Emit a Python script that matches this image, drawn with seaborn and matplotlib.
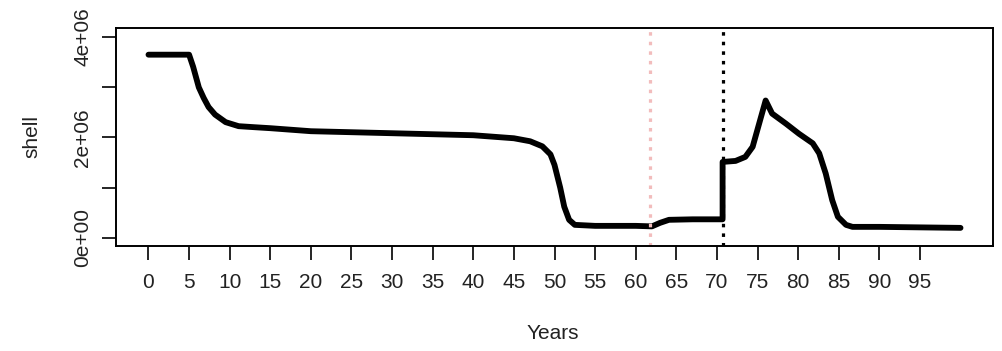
import matplotlib
matplotlib.use("Agg")
import matplotlib.pyplot as plt
import seaborn as sns
import pandas as pd

years = [0, 5, 5.5, 6.2, 6.8, 7.4, 8.2, 9.5, 11.1, 13, 15, 20, 25, 30, 35, 40, 45, 47,
         48.5, 49.5, 50, 50.7, 51.2, 51.8, 52.5, 55, 60, 62, 63, 64.1, 67, 70.7,
         70.7, 72.3, 73.5, 74.4, 75.2, 76.0, 76.8, 78.5, 80.1, 81.8, 82.6, 83.4,
         84.2, 84.9, 85.9, 86.7, 90, 95, 100]
shell = [3.64e6, 3.64e6, 3.4e6, 2.99e6, 2.78e6, 2.6e6, 2.45e6, 2.3e6, 2.22e6, 2.2e6,
         2.18e6, 2.12e6, 2.1e6, 2.08e6, 2.06e6, 2.04e6, 1.98e6, 1.92e6,
         1.82e6, 1.66e6, 1.45e6, 1.0e6, 0.62e6, 0.36e6, 0.26e6, 0.24e6, 0.24e6, 0.23e6,
         0.3e6, 0.36e6, 0.37e6, 0.37e6,
         1.51e6, 1.53e6, 1.61e6, 1.81e6, 2.27e6, 2.73e6, 2.47e6, 2.27e6, 2.07e6, 1.88e6,
         1.68e6, 1.28e6, 0.75e6, 0.42e6, 0.26e6, 0.22e6, 0.22e6, 0.21e6, 0.2e6]
xticks = list(range(0, 100, 5))
yticks = [0, 1e6, 2e6, 3e6, 4e6]
ytick_labels = ["0e+00", "", "2e+06", "", "4e+06"]
red_line_year = 61.7
black_line_year = 70.7

sns.set_style("white")
plt.rcParams["font.family"] = ["Liberation Sans", "DejaVu Sans"]

fig = plt.figure(figsize=(10.02, 3.51), dpi=100)
ax = fig.add_axes([116 / 1002, 1 - 246 / 351, (993 - 116) / 1002, (246 - 28) / 351])

df = pd.DataFrame({"Years": years, "shell": shell})
sns.lineplot(data=df, x="Years", y="shell", ax=ax, color="black", linewidth=4.2,
             estimator=None, sort=False)

ax.axvline(red_line_year, color="#f2bcbc", linestyle=(0, (1.1, 1.9)), linewidth=2.3)
ax.axvline(black_line_year, color="black", linestyle=(0, (1.1, 1.9)), linewidth=2.3)

ax.set_xlim(-4, 104)
ax.set_ylim(-0.16e6, 4.17e6)
ax.set_xticks(xticks)
ax.set_xticklabels([str(t) for t in xticks], fontsize=15, color="#222222")
ax.set_yticks(yticks)
ax.set_yticklabels(ytick_labels, fontsize=15, color="#222222", rotation=90, va="center")
ax.tick_params(axis="both", direction="out", length=10, width=1.2, color="black",
               bottom=True, left=True)
ax.tick_params(axis="x", pad=9.5)
ax.tick_params(axis="y", pad=7)
for s in ax.spines.values():
    s.set_color("black")
    s.set_linewidth(1.4)
    s.set_visible(True)

ax.set_xlabel("Years", fontsize=15, color="#222222")
ax.set_ylabel("shell", fontsize=15, color="#222222")
ax.xaxis.set_label_coords((553 - 116) / 877, (246 - 324) / 218)
ax.yaxis.set_label_coords((41 - 116) / 877, 0.5)

fig.savefig("out.png", dpi=100)
